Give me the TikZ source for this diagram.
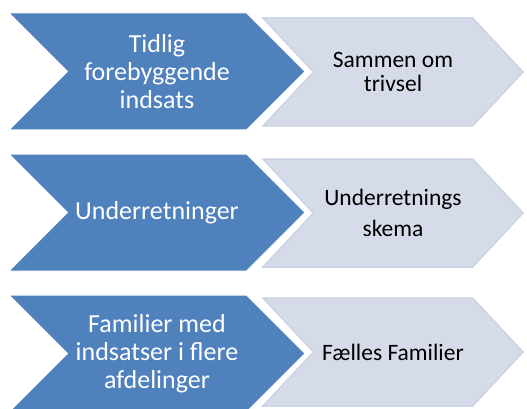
\documentclass[tikz,border=0pt]{standalone}
\usepackage{fontspec}
\setmainfont{Carlito}
\usetikzlibrary{positioning,shapes.symbols}
\definecolor{chevblue}{HTML}{4F81BD}
\definecolor{chevgrey}{HTML}{D5DBE9}
\definecolor{chevedge}{HTML}{CBD3E5}

\begin{document}
\begin{tikzpicture}[%
    x=1pt,
    y=-1pt,
    node distance=23pt,
    blueshape/.style={%
      signal,
      signal to=east,
      signal from=west,
      signal pointer angle=90,
      minimum width=296pt,
      minimum height=117pt,
      inner sep=0pt,
      fill=chevblue,
      draw=white,
      line width=1pt,
      text=white,
      align=center,
      font=\fontsize{26}{28}\selectfont
    },
    greyshape/.style={%
      signal,
      signal to=east,
      signal from=west,
      signal pointer angle=94,
      minimum width=260pt,
      minimum height=108pt,
      inner sep=0pt,
      fill=chevgrey,
      draw=chevedge,
      line width=1.5pt,
      text=black,
      align=center,
      font=\fontsize{23.5}{24.5}\selectfont
    }
  ]
    \useasboundingbox (0,0) rectangle (527,409);

    \node[greyshape] (g1) at (393,72)                    {Sammen om\\trivsel};
    \node[greyshape] (g2) at (393,213)                   {Underretnings\\[7pt]skema};
    \node[greyshape] (g3) at (393,352)                   {Fælles Familier};

    \node[blueshape] (b1) at (157,71.5)                  {Tidlig\\forebyggende\\indsats};
    \node[blueshape] (b2) [below=of b1]                  {Underretninger};
    \node[blueshape] (b3) [below=of b2]                  {Familier med\\indsatser i flere\\afdelinger};
\end{tikzpicture}
\end{document}
